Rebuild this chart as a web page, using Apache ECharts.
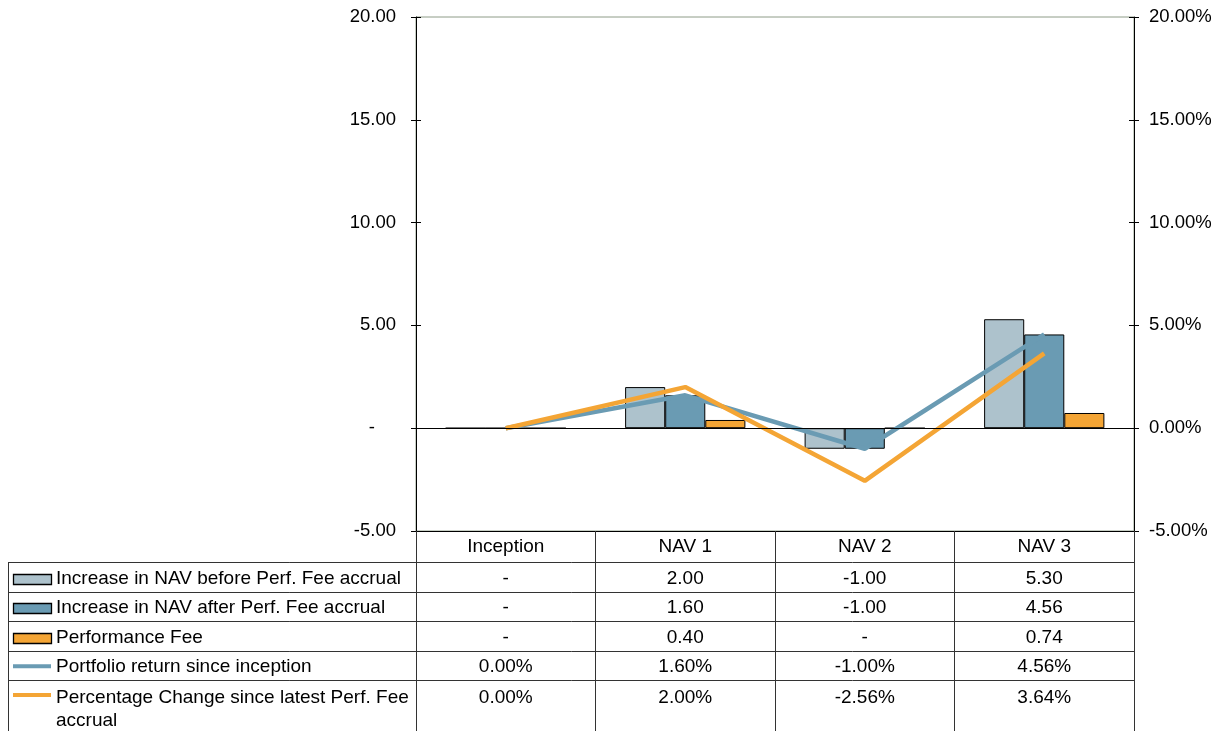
<!DOCTYPE html>
<html>
<head>
<meta charset="utf-8">
<script src="https://cdn.jsdelivr.net/npm/echarts@6/dist/echarts.min.js"></script>
<style>
  html, body { margin: 0; padding: 0; background: #fff; }
  #chart { width: 1220px; height: 731px; }
</style>
</head>
<body>
<div id="chart"></div>
<script>
// Categories along the x axis
const categories = ['Inception', 'NAV 1', 'NAV 2', 'NAV 3'];

// Bar series (left axis, amounts)
const navBeforeFee = [0, 2.00, -1.00, 5.30];
const navAfterFee = [0, 1.60, -1.00, 4.56];
const performanceFee = [0, 0.40, 0, 0.74];

// Line series (right axis, percent)
const portfolioReturn = [0.00, 1.60, -1.00, 4.56];
const pctChangeSinceFee = [0.00, 2.00, -2.56, 3.64];

// Series names shown in the data table
const seriesNames = [
  'Increase in NAV before Perf. Fee accrual',
  'Increase in NAV after Perf. Fee accrual',
  'Performance Fee',
  'Portfolio return since inception',
  'Percentage Change since latest Perf. Fee accrual'
];

// Axis range shared by both value axes
const axisMin = -5;
const axisMax = 20;
const axisStep = 5;

const FONT = 'Arial, "Liberation Sans", sans-serif';
const FS = 18.5;      // axis labels
const FS_TABLE = 19;  // data table text
const C_LIGHT = '#adc2cc';
const C_DARK = '#6a9bb3';
const C_ORANGE = '#f4a535';
const C_GRID = '#333333';

const fmtAmount = v => (v === 0 ? '-' : v.toFixed(2));
const fmtPct = v => v.toFixed(2) + '%';

const chart = echarts.init(document.getElementById('chart'), null, { renderer: 'canvas' });

const valueAxisBase = {
  type: 'value',
  min: axisMin,
  max: axisMax,
  interval: axisStep,
  splitLine: { show: false },
  axisLine: { show: true, lineStyle: { color: '#000', width: 1 } }
};

const barStyle = color => ({ color: color, borderColor: '#000', borderWidth: 1 });

chart.setOption({
  animation: false,
  backgroundColor: '#fff',
  grid: {
    left: 416, right: 86, top: 17, bottom: 200,
    show: true, borderColor: '#8e9c88', borderWidth: 1, backgroundColor: 'transparent'
  },
  xAxis: {
    type: 'category',
    data: categories,
    position: 'bottom',
    boundaryGap: true,
    axisLine: { onZero: false, lineStyle: { color: '#000', width: 1 } },
    axisTick: { show: true, length: 200, interval: 0, lineStyle: { color: C_GRID, width: 1 } },
    axisLabel: { margin: 6, fontSize: FS_TABLE, fontFamily: FONT, color: '#000', interval: 0 },
    splitLine: { show: false }
  },
  yAxis: [
    Object.assign({}, valueAxisBase, {
      position: 'left',
      axisTick: { show: true, inside: false, length: 5, lineStyle: { color: '#000' } },
      axisLabel: {
        margin: 20, fontSize: FS, fontFamily: FONT, color: '#000',
        formatter: v => (v === 0 ? '{z|-}' : v.toFixed(2)),
        rich: { z: { fontSize: FS, fontFamily: FONT, color: '#000', padding: [0, 21, 0, 0] } }
      }
    }),
    Object.assign({}, valueAxisBase, {
      position: 'right',
      axisTick: { show: true, inside: false, length: 5, lineStyle: { color: '#000' } },
      axisLabel: {
        margin: 15, fontSize: FS, fontFamily: FONT, color: '#000',
        formatter: v => fmtPct(v)
      }
    }),
    // inner halves of the crossing tick marks
    Object.assign({}, valueAxisBase, {
      position: 'left',
      axisLine: { show: false },
      axisTick: { show: true, inside: true, length: 5, lineStyle: { color: '#000' } },
      axisLabel: { show: false }
    }),
    Object.assign({}, valueAxisBase, {
      position: 'right',
      axisLine: { show: false },
      axisTick: { show: true, inside: true, length: 5, lineStyle: { color: '#000' } },
      axisLabel: { show: false }
    })
  ],
  series: [
    {
      name: seriesNames[0], type: 'bar', yAxisIndex: 0,
      data: navBeforeFee, barGap: '0%', barCategoryGap: '33%',
      itemStyle: barStyle(C_LIGHT),
      markLine: {
        silent: true, symbol: ['none', 'none'], label: { show: false },
        lineStyle: { color: '#000', width: 1, type: 'solid' },
        data: [{ yAxis: 0 }]
      }
    },
    {
      name: seriesNames[1], type: 'bar', yAxisIndex: 0,
      data: navAfterFee, barGap: '0%', barCategoryGap: '33%',
      itemStyle: barStyle(C_DARK)
    },
    {
      name: seriesNames[2], type: 'bar', yAxisIndex: 0,
      data: performanceFee, barGap: '0%', barCategoryGap: '33%',
      itemStyle: barStyle(C_ORANGE)
    },
    {
      name: seriesNames[3], type: 'line', yAxisIndex: 1,
      data: portfolioReturn, symbol: 'none',
      lineStyle: { color: C_DARK, width: 4.5 }, itemStyle: { color: C_DARK }
    },
    {
      name: seriesNames[4], type: 'line', yAxisIndex: 1,
      data: pctChangeSinceFee, symbol: 'none',
      lineStyle: { color: C_ORANGE, width: 4.5 }, itemStyle: { color: C_ORANGE }
    }
  ]
});

// ----- data table under the plot -----
const tableLeft = 8.5;
const tableRight = chart.convertToPixel({ xAxisIndex: 0 }, categories.length - 1) +
  (chart.convertToPixel({ xAxisIndex: 0 }, 1) - chart.convertToPixel({ xAxisIndex: 0 }, 0)) / 2;
const rowTops = [562, 591.5, 621, 650.5, 680];
const rowH = 29.5;
const keyX = 13, keyW = 38, labelX = 56;

const rowValues = [
  navBeforeFee.map(fmtAmount),
  navAfterFee.map(fmtAmount),
  performanceFee.map(fmtAmount),
  portfolioReturn.map(fmtPct),
  pctChangeSinceFee.map(fmtPct)
];
const rowKeys = [
  { kind: 'bar', color: C_LIGHT },
  { kind: 'bar', color: C_DARK },
  { kind: 'bar', color: C_ORANGE },
  { kind: 'line', color: C_DARK },
  { kind: 'line', color: C_ORANGE }
];

const graphics = [];
const lineStyle = { stroke: C_GRID, lineWidth: 1 };

// horizontal rules
rowTops.forEach(y => {
  graphics.push({
    type: 'line', silent: true,
    shape: { x1: tableLeft, y1: Math.round(y) + 0.5, x2: tableRight, y2: Math.round(y) + 0.5 },
    style: lineStyle
  });
});
// left border of the legend column
graphics.push({
  type: 'line', silent: true,
  shape: { x1: tableLeft, y1: rowTops[0], x2: tableLeft, y2: 731 },
  style: lineStyle
});

rowTops.forEach((top, r) => {
  const wrapped = r === rowTops.length - 1;
  const cy = wrapped ? top + 16 : top + rowH / 2 + 2;
  const key = rowKeys[r];
  if (key.kind === 'bar') {
    graphics.push({
      type: 'rect', silent: true,
      shape: { x: keyX + 0.5, y: Math.round(cy - 5) + 0.5, width: keyW, height: 10 },
      style: { fill: key.color, stroke: '#000', lineWidth: 1.3 }
    });
  } else {
    graphics.push({
      type: 'line', silent: true,
      shape: { x1: keyX, y1: cy - 1, x2: keyX + keyW, y2: cy - 1 },
      style: { stroke: key.color, lineWidth: 4 }
    });
  }
  graphics.push({
    type: 'text', silent: true,
    x: labelX, y: wrapped ? top + 6 : cy,
    style: {
      text: seriesNames[r], fill: '#000', font: FS_TABLE + 'px ' + FONT,
      textAlign: 'left', textVerticalAlign: wrapped ? 'top' : 'middle',
      width: 362, overflow: 'break', lineHeight: 23
    }
  });
  rowValues[r].forEach((txt, c) => {
    graphics.push({
      type: 'text', silent: true,
      x: chart.convertToPixel({ xAxisIndex: 0 }, c), y: wrapped ? top + 6 : cy,
      style: {
        text: txt, fill: '#000', font: FS_TABLE + 'px ' + FONT,
        textAlign: 'center', textVerticalAlign: wrapped ? 'top' : 'middle', lineHeight: 23
      }
    });
  });
});

chart.setOption({ graphic: graphics });
</script>
</body>
</html>
